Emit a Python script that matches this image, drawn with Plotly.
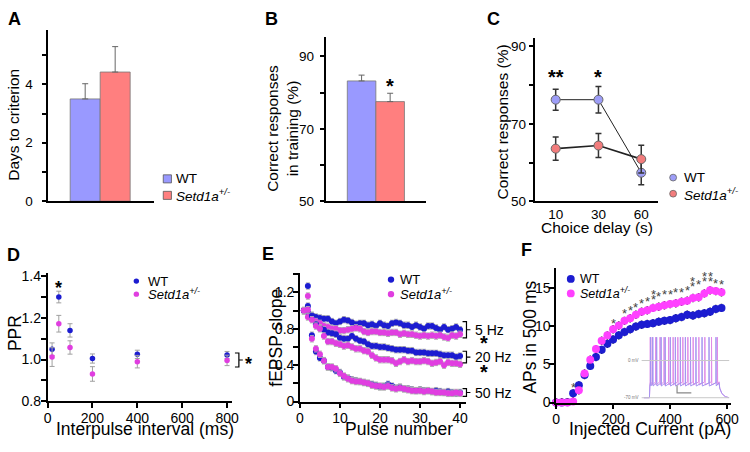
import plotly.graph_objects as go

W, H = 750, 452
FONT = 'Liberation Sans, Arial, sans-serif'

# ---------------- data ----------------
key_labels = ['WT', '<i>Setd1a<sup>+/-</sup></i>']

a_days = [3.5, 4.42]
a_days_err = [0.52, 0.87]

b_correct = [83.2, 77.5]
b_correct_err = [1.6, 2.3]
b_stars = ['', '*']
b_star_y = 83.2

c_delay = ['10', '30', '60']
c_wt = [76.2, 76.2, 57.4]
c_wt_err = [2.7, 3.4, 3.1]
c_het = [63.6, 64.4, 60.9]
c_het_err = [3.0, 3.1, 3.6]
c_stars = ['**', '*', '']
c_star_y = 83.3

d_interval = [20, 50, 100, 200, 400, 800]
d_wt = [1.05, 1.30, 1.14, 1.005, 1.025, 1.022]
d_wt_err = [0.03, 0.028, 0.032, 0.022, 0.02, 0.017]
d_het = [1.012, 1.172, 1.058, 0.931, 0.99, 0.996]
d_het_err = [0.045, 0.04, 0.032, 0.035, 0.03, 0.025]
d_star_x, d_star_y = 50, 1.369

e_pulse = list(range(1, 41))
e_wt_5hz = [1.00, 0.98, 0.95, 0.93, 0.92, 0.91, 0.91, 0.88, 0.86, 0.88,
            0.90, 0.89, 0.87, 0.85, 0.86, 0.86, 0.84, 0.85, 0.83, 0.86,
            0.84, 0.83, 0.86, 0.87, 0.86, 0.84, 0.84, 0.82, 0.84, 0.82,
            0.80, 0.83, 0.83, 0.81, 0.79, 0.82, 0.79, 0.80, 0.82, 0.79]
e_het_5hz = [1.00, 0.93, 0.91, 0.88, 0.86, 0.83, 0.82, 0.80, 0.80, 0.78,
             0.78, 0.79, 0.80, 0.81, 0.80, 0.77, 0.76, 0.77, 0.77, 0.76,
             0.76, 0.75, 0.76, 0.76, 0.74, 0.75, 0.74, 0.74, 0.73, 0.72,
             0.73, 0.72, 0.73, 0.72, 0.73, 0.71, 0.70, 0.73, 0.72, 0.74]
e_wt_20hz = [1.00, 1.27, 0.94, 0.85, 0.81, 0.79, 0.76, 0.75, 0.74, 0.70,
             0.69, 0.69, 0.72, 0.69, 0.67, 0.66, 0.63, 0.61, 0.61, 0.60,
             0.60, 0.59, 0.58, 0.57, 0.57, 0.57, 0.56, 0.56, 0.54, 0.54,
             0.54, 0.53, 0.53, 0.53, 0.52, 0.51, 0.51, 0.51, 0.49, 0.50]
e_het_20hz = [1.00, 1.16, 0.90, 0.83, 0.80, 0.72, 0.66, 0.66, 0.64, 0.63,
              0.61, 0.62, 0.60, 0.58, 0.58, 0.56, 0.55, 0.51, 0.48, 0.46,
              0.46, 0.46, 0.45, 0.42, 0.44, 0.46, 0.44, 0.45, 0.44, 0.44,
              0.45, 0.44, 0.42, 0.43, 0.44, 0.40, 0.43, 0.42, 0.42, 0.41]
e_wt_50hz = [1.00, 1.05, 0.73, 0.55, 0.48, 0.45, 0.38, 0.37, 0.34, 0.32,
             0.27, 0.26, 0.24, 0.23, 0.22, 0.21, 0.20, 0.19, 0.18, 0.16,
             0.17, 0.19, 0.17, 0.15, 0.16, 0.14, 0.14, 0.13, 0.12, 0.13,
             0.12, 0.12, 0.11, 0.12, 0.11, 0.10, 0.11, 0.10, 0.09, 0.10]
e_het_50hz = [1.00, 1.01, 0.69, 0.58, 0.52, 0.45, 0.38, 0.38, 0.36, 0.31,
              0.28, 0.25, 0.23, 0.22, 0.22, 0.21, 0.20, 0.18, 0.17, 0.17,
              0.16, 0.17, 0.15, 0.14, 0.15, 0.14, 0.13, 0.12, 0.12, 0.12,
              0.11, 0.12, 0.11, 0.10, 0.10, 0.10, 0.09, 0.09, 0.10, 0.09]
e_err = 0.035
e_freq_labels = ['5 Hz', '20 Hz', '50 Hz']

f_current = list(range(0, 600, 20))
f_wt = [0, 0, 0.05, 1.2, 2.25, 3.6, 4.8, 5.95, 6.9, 7.7,
        8.25, 8.8, 9.25, 9.6, 9.95, 10.2, 10.3, 10.4, 10.6, 10.7,
        10.8, 11.05, 11.2, 11.5, 11.4, 11.6, 11.7, 11.9, 12.25, 12.4]
f_het = [0, 0, 0, 0.15, 1.6, 3.8, 5.6, 7.0, 8.1, 8.8,
         9.6, 10.1, 10.7, 11.05, 11.5, 11.9, 12.1, 12.4, 12.55, 12.75,
         12.9, 13.0, 13.2, 13.35, 13.7, 13.8, 14.3, 14.7, 14.6, 14.45]
f_err = 0.55
f_star_x = [60, 200, 240, 260, 280, 300, 320, 340, 340, 360, 380, 400, 420,
            440, 460, 480, 480, 500, 520, 520, 540, 540, 560, 580]
f_star_y = [2.4, 10.8, 12.0, 12.4, 12.9, 13.4, 13.6, 13.9, 14.6, 14.3, 14.5, 14.6, 14.75,
            14.85, 15.1, 15.6, 16.3, 15.9, 16.3, 16.9, 16.3, 16.9, 16.0, 15.8]

# inset: example firing traces (ms / mV)
inset_wt_spikes = [8, 24, 52, 84, 113, 150, 186, 222, 258, 295, 334, 378, 428, 478]
inset_het_spikes = [6, 20, 45, 76, 105, 138, 170, 204, 240, 276, 314, 355, 398, 446, 488]

WT_BAR, HET_BAR = '#9999ff', '#ff7f7f'
WT_DOT, HET_DOT = '#9d9df7', '#f27c7c'
WT_E, HET_E = '#1c1cd0', '#e03ee0'


def px(x):
    return x / W


def py(y):
    return 1 - y / H


def axis(dom, rng, **kw):
    base = dict(domain=dom, range=rng, showline=True, linecolor='black', linewidth=1.5,
                ticks='outside', ticklen=5, tickwidth=1.5, tickcolor='black',
                showgrid=False, zeroline=False, fixedrange=True,
                tickfont=dict(size=13.5, color='black', family=FONT))
    base.update(kw)
    return base


def minor(step):
    return dict(dtick=step, ticks='outside', ticklen=5, tickwidth=1.5, tickcolor='black', showgrid=False)


fig = go.Figure()
shapes, notes = [], []


def note(x, y, text, size, xref='paper', yref='paper', color='black', **kw):
    d = dict(x=x, y=y, xref=xref, yref=yref, text=text, showarrow=False,
             xanchor='center', yanchor='middle', font=dict(size=size, color=color, family=FONT))
    d.update(kw)
    notes.append(d)


# ---------------- A ----------------
fig.add_trace(go.Bar(x=[0, 1], y=a_days, width=1, marker=dict(color=[WT_BAR, HET_BAR], line=dict(color='#777', width=0.8)),
                     error_y=dict(type='data', symmetric=False, array=a_days_err, arrayminus=[0, 0],
                                  color='#666', thickness=1, width=3),
                     xaxis='x', yaxis='y', showlegend=False))

# ---------------- B ----------------
fig.add_trace(go.Bar(x=[0, 1], y=b_correct, width=1, marker=dict(color=[WT_BAR, HET_BAR], line=dict(color='#777', width=0.8)),
                     error_y=dict(type='data', symmetric=False, array=b_correct_err, arrayminus=[0, 0],
                                  color='#666', thickness=1, width=3),
                     xaxis='x2', yaxis='y2', showlegend=False))
for i, s in enumerate(b_stars):
    if s:
        note(i, b_star_y, '<b>%s</b>' % s, 20, 'x2', 'y2', yshift=-5)

# ---------------- C ----------------
for vals, err, col, lw in [(c_wt, c_wt_err, WT_DOT, 1), (c_het, c_het_err, HET_DOT, 1.6)]:
    fig.add_trace(go.Scatter(x=[0, 1, 2], y=vals, mode='lines+markers', cliponaxis=False,
                             line=dict(color='#222', width=lw),
                             marker=dict(size=9, color=col, line=dict(color='#666', width=1)),
                             error_y=dict(type='data', array=err, color='#333', thickness=1.5, width=3),
                             xaxis='x3', yaxis='y3', showlegend=False))
for i, s in enumerate(c_stars):
    if s:
        note(i, c_star_y, '<b>%s</b>' % s, 20, 'x3', 'y3', yshift=-5)

# ---------------- D ----------------
for vals, err, col in [(d_wt, d_wt_err, WT_E), (d_het, d_het_err, HET_E)]:
    fig.add_trace(go.Scatter(x=d_interval, y=vals, mode='markers', cliponaxis=False,
                             marker=dict(size=5.5, color=col),
                             error_y=dict(type='data', array=err, color='#a0a0a0', thickness=1, width=2.5),
                             xaxis='x4', yaxis='y4', showlegend=False))
note(d_star_x, d_star_y, '<b>*</b>', 18, 'x4', 'y4', yshift=-5)

# ---------------- E ----------------
for wt, het in [(e_wt_5hz, e_het_5hz), (e_wt_20hz, e_het_20hz), (e_wt_50hz, e_het_50hz)]:
    for vals, col in [(wt, WT_E), (het, HET_E)]:
        fig.add_trace(go.Scatter(x=e_pulse, y=vals, mode='markers', cliponaxis=False,
                                 marker=dict(size=6, color=col),
                                 error_y=dict(type='constant', value=e_err, color='#b0b0b0', thickness=1, width=2),
                                 xaxis='x5', yaxis='y5', showlegend=False))

# ---------------- F ----------------
for vals, col in [(f_wt, WT_E), (f_het, '#ff40ff')]:
    fig.add_trace(go.Scatter(x=f_current, y=vals, mode='markers', cliponaxis=False,
                             marker=dict(size=8, color=col),
                             error_y=dict(type='constant', value=f_err, color='#222', thickness=1.5, width=0),
                             xaxis='x6', yaxis='y6', showlegend=False))
for sx, sy in zip(f_star_x, f_star_y):
    note(sx, sy, '*', 13, 'x6', 'y6', color='#444', yshift=-3)


def ap_trace(spikes, plateau, peak):
    t, v = [-42, 0, 3], [-70, -70, plateau - 6]
    for s in spikes:
        t += [s - 1, s, s + 2]
        v += [plateau, peak, plateau - 6]
    t += [500, 505, 520, 545, 573]
    v += [plateau, -52, -62, -68, -70]
    return t, v


for spikes, col, plat in [(inset_het_spikes, '#e08be6', -40), (inset_wt_spikes, '#a594f0', -42)]:
    t, v = ap_trace(spikes, plat, 44)
    fig.add_trace(go.Scatter(x=t, y=v, mode='lines', line=dict(color=col, width=1),
                             xaxis='x7', yaxis='y7', showlegend=False))
for lvl, lab in [(0, '0 mV'), (-70, '-70 mV')]:
    shapes.append(dict(type='line', xref='paper', yref='y7', x0=px(648), x1=px(737), y0=lvl, y1=lvl,
                       line=dict(color='#c8c8c8', width=1)))
    note(px(647), lvl, lab, 4.5, 'paper', 'y7', color='#777', xanchor='right')
# scale bar
shapes.append(dict(type='path', xref='paper', yref='paper', path='M %f %f L %f %f L %f %f' % (
    px(684), py(391.5), px(684), py(399.3), px(698.5), py(399.3)), line=dict(color='#888', width=1.2)))


# ---------------- brackets ----------------
def bracket(x, y0, y1, left=4, right=4):
    shapes.append(dict(type='path', xref='paper', yref='paper', line=dict(color='black', width=1.2),
                       path='M %f %f L %f %f L %f %f L %f %f M %f %f L %f %f' % (
                           px(x - left), py(y0), px(x), py(y0), px(x), py(y1), px(x - left), py(y1),
                           px(x), py((y0 + y1) / 2), px(x + right), py((y0 + y1) / 2))))


bracket(238.7, 358.3, 372.7)
note(px(248), py(370), '<b>*</b>', 18)

for (y0, y1), lab in zip([(326, 342.7), (356.5, 368.5), (395, 403)], e_freq_labels):
    bracket(470, y0, y1)
    note(px(476.5), py((y0 + y1) / 2), lab, 14, xanchor='left')
for sy in [342.7, 372.7]:
    note(px(488.3), py(sy + 5), '<b>*</b>', 20)


# ---------------- keys ----------------
def add_key(x, y, gap, kind, size, colors, text_x, fsize, outline):
    for i, (col, lab) in enumerate(zip(colors, key_labels)):
        yy = y + i * gap
        shapes.append(dict(type=kind, xref='paper', yref='paper', x0=px(x - size / 2), x1=px(x + size / 2),
                           y0=py(yy + size / 2), y1=py(yy - size / 2), fillcolor=col,
                           line=dict(color=outline or col, width=0.8 if outline else 0)))
        note(px(text_x), py(yy), lab, fsize, xanchor='left')


add_key(166, 179, 17, 'rect', 8.3, [WT_BAR, HET_BAR], 173, 13.5, '#555')
add_key(680, 177.7, 16.6, 'circle', 7, [WT_DOT, HET_DOT], 689, 13.5, '#666')
add_key(134.5, 284.3, 13.4, 'circle', 5.5, [WT_E, HET_E], 144, 13, None)
add_key(393.3, 282.7, 15, 'circle', 6.5, [WT_E, HET_E], 400, 13, None)
add_key(576, 282, 15, 'circle', 8, [WT_E, '#ff40ff'], 583.3, 12.5, None)

# ---------------- titles & panel letters ----------------
for x, y, lab in [(11, 14, 'A'), (272, 14, 'B'), (497, 14, 'C'), (10, 257, 'D'), (268.5, 256, 'E'), (531, 252, 'F')]:
    note(px(x), py(y), '<b>%s</b>' % lab, 18)

titles = [
    (9.5, 123, 'Days to criterion', -90, 15.5),
    (283, 127, 'Correct responses<br>in training (%)', -90, 15.5),
    (507, 120, 'Correct responses (%)', -90, 15.5),
    (603, 229, 'Choice delay (s)', 0, 15.5),
    (11, 338, 'PPR', -90, 17.5),
    (143.3, 437, 'Interpulse interval (ms)', 0, 17.5),
    (277, 343, 'fEPSP slope', -90, 17.5),
    (401.7, 437, 'Pulse number', 0, 17.5),
    (535, 342, 'APs in 500 ms', -90, 17.5),
    (656.7, 437, 'Injected Current (pA)', 0, 17.5),
]
for x, y, text, ang, size in titles:
    note(px(x), py(y), text, size, textangle=ang)

big = dict(size=14, color='black', family=FONT)
fig.update_layout(
    width=W, height=H, margin=dict(l=0, r=0, t=0, b=0),
    paper_bgcolor='white', plot_bgcolor='white', font=dict(family=FONT, color='black'),
    showlegend=False, shapes=shapes, annotations=notes,
    xaxis=axis([px(45), px(152)], [-1.23, 2.28], anchor='y', ticks='', showticklabels=False),
    yaxis=axis([py(202), py(26)], [0, 5.85], anchor='x', tick0=0, dtick=2, minor=minor(1), ticklabelstandoff=6),
    xaxis2=axis([px(327.7), px(429)], [-1.23, 2.26], anchor='y2', ticks='', showticklabels=False),
    yaxis2=axis([py(202.3), py(33.3)], [50, 95.2], anchor='x2', tick0=50, dtick=20, minor=minor(10),
                ticklabelstandoff=3),
    xaxis3=axis([px(540), px(665)], [-0.475, 2.4], anchor='y3', ticks='', tickvals=[0, 1, 2], ticktext=c_delay),
    yaxis3=axis([py(202.3), py(34.3)], [50, 92], anchor='x3', tick0=50, dtick=20, minor=minor(10)),
    xaxis4=axis([px(44.3), px(231.7)], [0, 822], anchor='y4', dtick=200, tickfont=big, ticklabelstandoff=-2),
    yaxis4=axis([py(408), py(276)], [0.8, 1.415], anchor='x4', tick0=0.8, dtick=0.2, minor=minor(0.1),
                tickformat='.1f', tickfont=big, ticklabelstandoff=-3),
    xaxis5=axis([px(300.7), px(470)], [0, 41.6], anchor='y5', dtick=10, tickfont=big, ticklabelstandoff=-2),
    yaxis5=axis([py(408.3), py(276)], [0, 1.413], anchor='x5', tick0=0, dtick=0.4, minor=minor(0.2),
                tickfont=big, ticklabelstandoff=-4),
    xaxis6=axis([px(561), px(739)], [0, 614], anchor='y6', dtick=200, tickfont=big, ticklabelstandoff=-2),
    yaxis6=axis([py(409.3), py(271)], [0, 17.6], anchor='x6', dtick=5, tickfont=big, ticklabelstandoff=-4),
    xaxis7=dict(domain=[px(650), px(737)], range=[-42, 573], anchor='y7', visible=False, fixedrange=True),
    yaxis7=dict(domain=[py(406), py(336)], range=[-73, 55], anchor='x7', visible=False, fixedrange=True),
)

# the page body has a default 8px margin; drop it so the figure sits at the window's corner
fig.write_html('out.html', config={'displayModeBar': False},
               post_script="document.body.style.margin='0';")
